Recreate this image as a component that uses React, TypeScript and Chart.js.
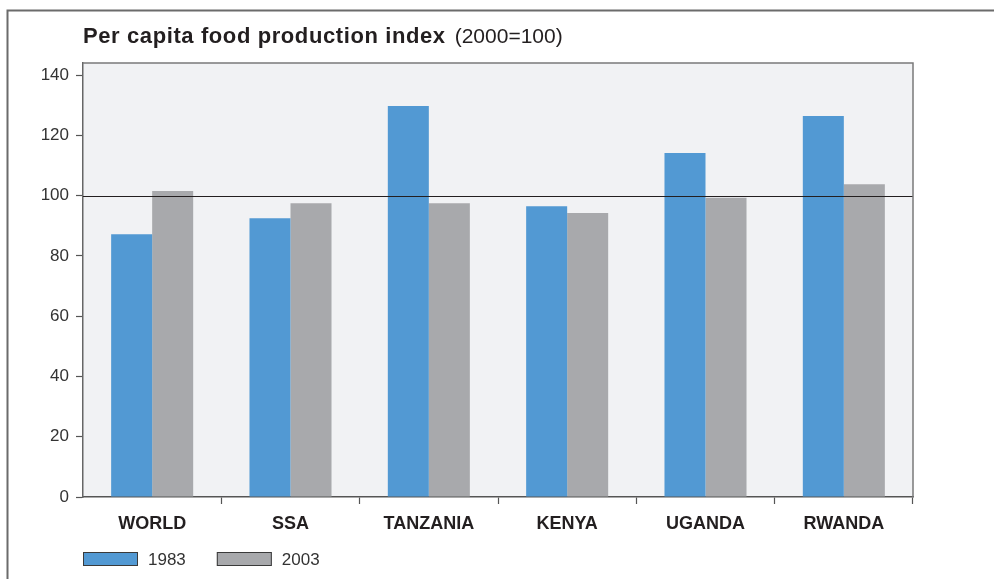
import React, { useEffect, useRef } from 'react';
import { Chart, registerables } from 'chart.js';

Chart.register(...registerables);

const categories = ['WORLD', 'SSA', 'TANZANIA', 'KENYA', 'UGANDA', 'RWANDA'];
const values1983 = [87.2, 92.5, 129.7, 96.5, 114.1, 126.4];
const values2003 = [101.5, 97.5, 97.5, 94.2, 99.3, 103.8];
const seriesLabels = ['1983', '2003'];
const seriesColors = ['#5299D3', '#A8A9AC'];
const yTickValues = [0, 20, 40, 60, 80, 100, 120, 140];
const titleBold = 'Per capita food production index';
const titleNormal = '(2000=100)';
const referenceValue = 100;

const FONT = '"Liberation Sans", Arial, Helvetica, sans-serif';

const decorPlugin = {
  id: 'decor',
  beforeDraw(chart: any) {
    const { ctx, chartArea: a } = chart;
    ctx.save();
    ctx.fillStyle = '#ffffff';
    ctx.fillRect(0, 0, chart.width, chart.height);
    ctx.fillStyle = '#F1F2F4';
    ctx.fillRect(a.left, a.top, a.right - a.left, a.bottom - a.top);
    // outer frame
    ctx.strokeStyle = '#6b6b6b';
    ctx.lineWidth = 2;
    ctx.strokeRect(7.5, 10.5, chart.width + 40, chart.height + 40);
    // title
    ctx.fillStyle = '#231f20';
    ctx.textBaseline = 'alphabetic';
    ctx.textAlign = 'left';
    ctx.font = 'bold 22px ' + FONT;
    (ctx as any).letterSpacing = '0.6px';
    ctx.fillText(titleBold, a.left, 43);
    const w = ctx.measureText(titleBold).width;
    (ctx as any).letterSpacing = '0px';
    ctx.font = '21px ' + FONT;
    ctx.fillText(titleNormal, a.left + w + 9, 43);
    ctx.restore();
  },
  afterDatasetsDraw(chart: any) {
    const { ctx, chartArea: a, scales } = chart;
    ctx.save();
    // reference line at 100
    const y = Math.round(scales.y.getPixelForValue(referenceValue)) + 0.5;
    ctx.strokeStyle = '#231f20';
    ctx.lineWidth = 1.2;
    ctx.beginPath();
    ctx.moveTo(a.left, y);
    ctx.lineTo(a.right, y);
    ctx.stroke();
    // plot frame (top & right)
    ctx.strokeStyle = '#7a7a7a';
    ctx.lineWidth = 1.5;
    ctx.beginPath();
    ctx.moveTo(a.left, a.top);
    ctx.lineTo(a.right, a.top);
    ctx.lineTo(a.right, a.bottom);
    ctx.stroke();
    ctx.restore();
  },
  afterDraw(chart: any) {
    const { ctx, chartArea: a } = chart;
    ctx.save();
    const ds = chart.data.datasets;
    let x = a.left;
    const boxW = 55;
    const boxH = 14;
    const yTop = 552;
    ctx.font = '17px ' + FONT;
    ctx.textBaseline = 'middle';
    ctx.textAlign = 'left';
    ds.forEach((d: any, i: number) => {
      ctx.fillStyle = d.backgroundColor;
      ctx.fillRect(x, yTop, boxW, boxH);
      ctx.strokeStyle = '#3a3a3a';
      ctx.lineWidth = 1;
      ctx.strokeRect(x + 0.5, yTop + 0.5, boxW - 1, boxH - 1);
      ctx.fillStyle = '#333333';
      ctx.fillText(d.label, x + boxW + 10, yTop + boxH / 2 + 1);
      const tw = ctx.measureText(d.label).width;
      x = x + boxW + 10 + tw + 31;
    });
    ctx.restore();
  },
};

export default function App() {
  const ref = useRef<HTMLCanvasElement | null>(null);

  useEffect(() => {
    if (!ref.current) return;
    const chart = new Chart(ref.current, {
      type: 'bar',
      data: {
        labels: categories,
        datasets: [
          {
            label: seriesLabels[0],
            data: values1983,
            backgroundColor: seriesColors[0],
            categoryPercentage: 0.593,
            barPercentage: 1,
          },
          {
            label: seriesLabels[1],
            data: values2003,
            backgroundColor: seriesColors[1],
            categoryPercentage: 0.593,
            barPercentage: 1,
          },
        ],
      },
      options: {
        responsive: false,
        animation: false,
        layout: { padding: { left: 0, top: 63, right: 81, bottom: 0 } },
        plugins: {
          legend: { display: false },
          title: { display: false },
          tooltip: { enabled: false },
        },
        scales: {
          x: {
            offset: true,
            grid: {
              offset: true,
              drawOnChartArea: false,
              drawTicks: true,
              tickLength: 7,
              tickColor: (c: any) => (c.index === 0 ? 'rgba(0,0,0,0)' : '#555'),
              tickWidth: 1.2,
            },
            border: { display: true, color: '#555', width: 1.5 },
            ticks: {
              color: '#231f20',
              font: { family: FONT, size: 18, weight: 'bold' },
              padding: 9,
              maxRotation: 0,
              autoSkip: false,
            },
            afterFit: (s: any) => {
              s.height = 82;
            },
          },
          y: {
            min: 0,
            max: 144,
            afterBuildTicks: (s: any) => {
              s.ticks = yTickValues.map((v) => ({ value: v }));
            },
            grid: {
              drawOnChartArea: false,
              drawTicks: true,
              tickLength: 7,
              tickColor: '#555',
              tickWidth: 1.2,
            },
            border: { display: true, color: '#666', width: 1.5 },
            ticks: {
              color: '#333333',
              font: { family: FONT, size: 17 },
              padding: 7,
            },
            afterFit: (s: any) => {
              s.width = 83;
            },
          },
        },
      },
      plugins: [decorPlugin],
    } as any);
    return () => chart.destroy();
  }, []);

  return (
    <div style={{ position: 'absolute', left: 0, top: 0, width: 994, height: 579 }}>
      <canvas ref={ref} width={994} height={579} style={{ display: 'block' }} />
    </div>
  );
}
